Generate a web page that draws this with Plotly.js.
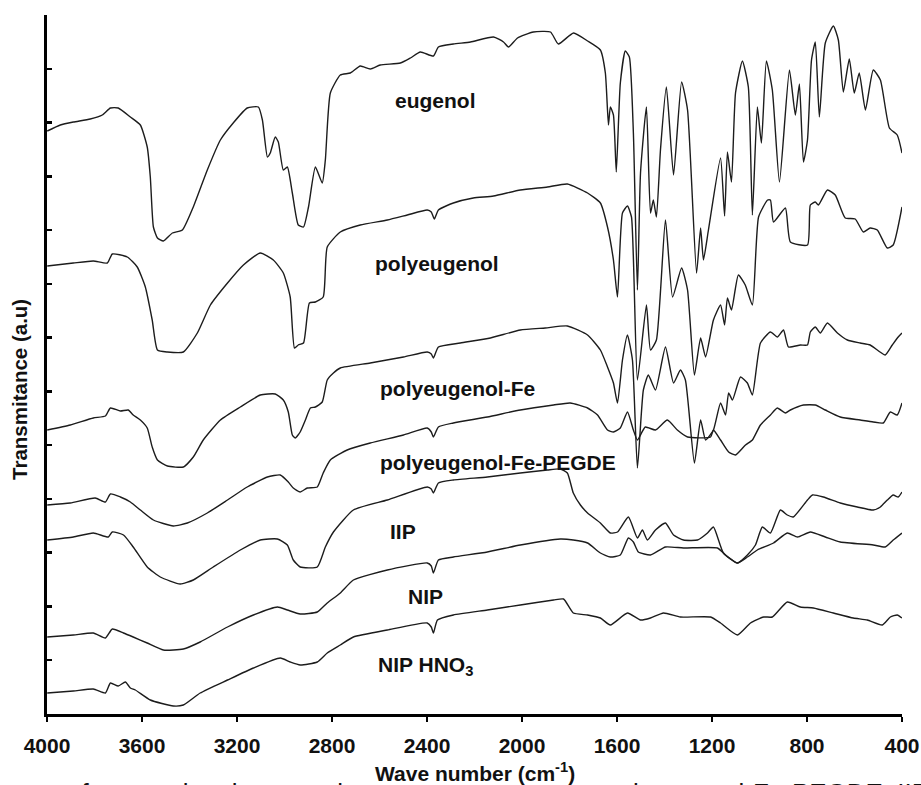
<!DOCTYPE html>
<html>
<head>
<meta charset="utf-8">
<script src="https://cdn.plot.ly/plotly-3.0.1.min.js"></script>
<style>
  html, body { margin: 0; padding: 0; background: #ffffff; }
  #chart { width: 921px; height: 785px; }
</style>
</head>
<body>
<div id="chart"></div>
<script>
// ---------- data (wavenumber, cm-1) and transmittance (arbitrary units, stacked) ----------
const eugenolWn = [3999,3944,3889,3818,3767,3733,3700,3649,3607,3578,3565,3552,3535,3510,3472,3430,3384,3325,3270,3216,3157,3110,3093,3072,3060,3039,3026,3005,2988,2967,2942,2920,2899,2870,2841,2828,2807,2765,2723,2681,2639,2597,2512,2470,2428,2373,2352,2289,2217,2120,2078,2057,2019,1952,1880,1847,1783,1724,1670,1649,1636,1628,1615,1603,1586,1565,1548,1531,1514,1501,1476,1459,1447,1434,1417,1392,1362,1328,1303,1265,1248,1236,1215,1164,1147,1135,1118,1101,1072,1047,1030,1009,992,971,946,916,874,849,832,815,798,781,765,748,723,689,668,647,622,601,580,554,521,491,453,420,400];
const eugenolT = [583,589,592,595,599,606,606,597,589,567,537,487,476,473,481,484,507,544,574,591,606,607,594,557,561,577,572,544,547,521,489,487,507,547,531,554,621,639,641,648,645,649,651,656,662,658,667,670,672,677,672,667,676,682,682,670,681,673,664,641,589,607,599,542,631,663,657,581,424,541,607,501,514,497,564,627,539,632,604,441,486,454,484,556,498,562,532,621,653,627,499,607,571,653,624,532,644,599,630,552,574,654,672,597,671,688,674,622,655,621,641,604,644,634,586,579,561];

const polyWn = [3999,3889,3805,3746,3725,3662,3620,3586,3557,3535,3493,3426,3367,3312,3240,3173,3102,3047,3005,2976,2958,2942,2920,2895,2870,2837,2820,2765,2681,2567,2483,2399,2382,2369,2352,2289,2205,2120,2007,1893,1809,1724,1670,1640,1615,1598,1577,1556,1539,1514,1476,1459,1434,1396,1366,1328,1303,1274,1248,1227,1194,1164,1147,1135,1118,1089,1060,1030,1004,966,954,941,891,870,798,786,765,752,714,681,639,597,563,534,504,462,437,400];
const polyT = [448,451,453,451,460,457,447,427,394,364,362,362,381,409,431,449,461,454,441,417,366,369,371,411,412,417,467,482,489,494,499,504,502,495,504,511,516,518,524,527,530,521,511,487,454,417,501,508,497,334,409,364,374,494,417,446,424,339,376,357,394,409,389,416,404,439,429,409,497,514,514,492,506,472,469,509,512,509,524,519,496,495,482,486,484,466,469,507];

const feWn = [3999,3902,3805,3754,3733,3691,3658,3637,3607,3578,3557,3535,3493,3426,3384,3342,3270,3186,3102,3039,3005,2984,2967,2955,2934,2912,2891,2870,2841,2820,2794,2765,2639,2499,2399,2382,2373,2352,2260,2133,2007,1902,1809,1724,1670,1640,1615,1598,1577,1556,1535,1514,1489,1468,1438,1396,1362,1333,1312,1274,1248,1227,1194,1164,1143,1130,1114,1080,1051,1030,996,954,925,899,878,828,798,786,765,744,714,672,630,576,534,471,441,416,400];
const feT = [284,289,296,298,306,303,304,299,294,286,267,254,248,247,257,274,294,307,319,320,314,302,279,276,282,294,306,307,312,334,341,346,351,357,362,360,356,367,371,376,384,386,388,379,364,347,331,311,354,379,354,246,324,339,324,367,331,344,334,251,294,274,284,311,299,321,314,337,331,319,371,382,377,384,367,369,369,382,387,381,391,381,374,371,369,359,369,377,381];

const pegdeWn = [3999,3902,3797,3754,3733,3691,3649,3607,3552,3468,3409,3325,3240,3157,3072,3018,2984,2963,2934,2904,2862,2837,2807,2736,2639,2499,2399,2382,2373,2352,2289,2146,2007,1867,1797,1724,1682,1640,1615,1586,1556,1531,1514,1481,1438,1388,1346,1303,1206,1194,1164,1130,1101,1059,1030,996,954,925,891,870,815,765,723,660,576,521,479,449,420,400];
const pegdeT = [209,211,216,212,220,217,212,204,194,188,191,201,214,227,237,239,232,226,222,226,227,241,254,264,271,279,286,282,277,287,291,297,304,309,311,306,299,284,282,286,302,284,274,287,284,294,284,277,277,284,274,262,259,269,274,289,299,306,301,304,309,309,304,297,294,292,291,302,299,311];

const iipWn = [3999,3889,3805,3742,3725,3678,3637,3578,3523,3439,3384,3300,3186,3102,3030,2988,2963,2934,2862,2828,2794,2710,2567,2399,2382,2373,2352,2289,2146,2007,1893,1839,1809,1784,1754,1724,1670,1628,1598,1552,1514,1493,1472,1438,1396,1362,1320,1261,1219,1194,1152,1093,1051,1017,988,954,912,883,858,798,777,731,660,588,521,491,462,437,416,400];
const iipT = [174,177,181,177,182,179,167,147,137,130,134,147,164,174,175,169,154,147,147,167,182,204,214,227,225,221,231,234,237,241,244,245,241,221,209,201,191,181,182,197,176,184,174,184,191,179,174,174,181,187,161,151,159,169,187,181,204,199,197,214,219,217,211,207,204,207,214,219,217,222];

const nipWn = [3999,3889,3805,3754,3725,3678,3637,3578,3510,3426,3355,3240,3131,3030,2988,2934,2862,2820,2765,2710,2567,2399,2382,2373,2352,2289,2146,2007,1839,1784,1724,1670,1628,1586,1552,1531,1510,1459,1396,1320,1177,1143,1093,1051,1009,941,883,840,786,723,660,521,471,437,400];
const nipT = [77,79,81,76,85,81,77,71,64,65,72,87,99,107,104,100,102,111,121,134,144,151,148,141,154,157,162,169,175,174,171,161,157,159,176,172,162,159,167,166,166,159,151,157,164,171,181,177,182,177,172,169,167,174,181];

const hno3Wn = [3999,3889,3805,3754,3733,3700,3670,3649,3628,3565,3468,3426,3355,3240,3131,3018,2976,2934,2862,2820,2765,2710,2567,2399,2382,2373,2356,2289,2146,2007,1867,1825,1784,1724,1670,1628,1556,1501,1459,1404,1333,1206,1164,1093,1038,983,946,883,828,773,689,605,546,483,449,420,400];
const hno3T = [21,23,25,21,31,28,32,26,24,14,8,9,21,34,46,56,52,49,52,61,69,77,84,91,87,81,94,99,104,109,114,115,101,99,96,89,101,94,96,101,97,97,91,79,91,97,97,112,107,106,101,96,94,89,97,99,96];

const seriesNames = ["eugenol","polyeugenol","polyeugenol-Fe","polyeugenol-Fe-PEGDE","IIP","NIP","NIP HNO<sub>3</sub>"];
const labelWn = [2365,2357,2272,2100,2499,2407,2407];
const labelT  = [614,451,326,252,183,118,48];

const xTickVals = [4000,3600,3200,2800,2400,2000,1600,1200,800,400];
const yTickStep = 53.77;
const yTickCount = 14;

const captionLeft = "ectra of eugenol, polyeugenol,";
const captionRight = "polyeugenol-Fe-PEGDE, IIP, NIP and NIP HNO3";

// ---------- build traces ----------
const lineStyle = {color: "#1c1c1c", width: 1.4, shape: "spline", smoothing: 0.5};
const allWn = [eugenolWn, polyWn, feWn, pegdeWn, iipWn, nipWn, hno3Wn];
const allT  = [eugenolT, polyT, feT, pegdeT, iipT, nipT, hno3T];
const traces = allWn.map((wn, i) => ({
  x: wn, y: allT[i], type: "scatter", mode: "lines",
  line: lineStyle, name: seriesNames[i], hoverinfo: "skip", showlegend: false
}));

const yTickVals = [];
for (let k = 0; k < yTickCount; k++) yTickVals.push(k * yTickStep);

const fontFam = "Liberation Sans, Arial, sans-serif";
const annotations = seriesNames.map((s, i) => ({
  x: labelWn[i], y: labelT[i], xref: "x", yref: "y",
  text: "<b>" + s + "</b>", showarrow: false,
  font: {family: fontFam, size: 21, color: "#111"}, xanchor: "center", yanchor: "middle"
}));
annotations.push({
  xref: "paper", yref: "paper", x: -0.0316, y: 0.465, textangle: -90,
  text: "<b>Transmitance (a.u)</b>", showarrow: false,
  font: {family: fontFam, size: 20.5, color: "#111"}, xanchor: "center", yanchor: "middle"
});
annotations.push({
  xref: "paper", yref: "paper", x: -0.055, y: -0.088, xanchor: "left", yanchor: "top",
  text: captionLeft, showarrow: false, font: {family: fontFam, size: 26, color: "#111"}
});
annotations.push({
  xref: "paper", yref: "paper", x: 0.649, y: -0.088, xanchor: "left", yanchor: "top",
  text: captionRight, showarrow: false, font: {family: fontFam, size: 26, color: "#111"}
});
annotations.push({
  xref: "paper", yref: "paper", x: 0.5, y: -0.083, xanchor: "center", yanchor: "middle",
  text: "<b>Wave number (cm<sup>-1</sup>)</b>", showarrow: false,
  font: {family: fontFam, size: 21, color: "#111"}
});

const layout = {
  width: 921, height: 785,
  margin: {l: 47, r: 19, t: 15, b: 71, autoexpand: false},
  paper_bgcolor: "#ffffff", plot_bgcolor: "#ffffff",
  showlegend: false,
  xaxis: {
    range: [4000, 400], tickvals: xTickVals, ticks: "outside", ticklen: 5, tickwidth: 2.5,
    tickcolor: "#000", showline: true, linecolor: "#000", linewidth: 3, showgrid: false,
    zeroline: false, mirror: false, ticklabelstandoff: 6,
    tickfont: {family: fontFam, size: 21, color: "#111", weight: "bold"}
  },
  yaxis: {
    range: [0, 699], tickvals: yTickVals, ticks: "inside", ticklen: 5, tickwidth: 2.5,
    tickcolor: "#000", showline: true, linecolor: "#000", linewidth: 3, showgrid: false,
    zeroline: false, showticklabels: false, mirror: false
  },
  annotations: annotations
};

Plotly.newPlot("chart", traces, layout, {staticPlot: true, displayModeBar: false});
</script>
</body>
</html>
